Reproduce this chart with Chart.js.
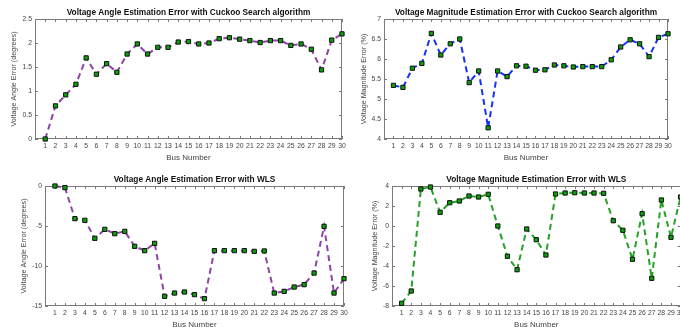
<!DOCTYPE html>
<html>
<head>
<meta charset="utf-8">
<script src="https://cdn.jsdelivr.net/npm/chart.js@4.4.1/dist/chart.umd.min.js"></script>
<style>
  html, body { margin: 0; padding: 0; background: #fff; width: 680px; height: 327px; overflow: hidden; position: relative; }
  canvas { position: absolute; }
</style>
</head>
<body>
<canvas id="angleCuckooChart"></canvas>
<canvas id="magCuckooChart"></canvas>
<canvas id="angleWlsChart"></canvas>
<canvas id="magWlsChart"></canvas>
<script>
// bus numbers (x axis)
const buses = [1, 2, 3, 4, 5, 6, 7, 8, 9, 10, 11, 12, 13, 14, 15, 16, 17, 18, 19, 20, 21, 22, 23, 24, 25, 26, 27, 28, 29, 30];

// voltage angle error, cuckoo search (degrees)
const angleCuckoo = [0, 0.69, 0.92, 1.14, 1.69, 1.35, 1.57, 1.39, 1.77, 1.98, 1.77, 1.91, 1.91, 2.02, 2.03, 1.98, 2.0, 2.09, 2.11, 2.08, 2.05, 2.01, 2.05, 2.05, 1.95, 1.98, 1.87, 1.44, 2.06, 2.19];
// voltage magnitude error, cuckoo search (%)
const magCuckoo = [5.34, 5.29, 5.77, 5.89, 6.64, 6.10, 6.38, 6.50, 5.41, 5.70, 4.28, 5.70, 5.56, 5.83, 5.82, 5.72, 5.73, 5.85, 5.83, 5.80, 5.81, 5.81, 5.81, 5.98, 6.30, 6.48, 6.38, 6.06, 6.54, 6.63];
// voltage angle error, WLS (degrees)
const angleWls = [0, -0.2, -4.08, -4.29, -6.54, -5.42, -5.96, -5.67, -7.54, -8.08, -7.17, -13.79, -13.38, -13.25, -13.58, -14.08, -8.08, -8.08, -8.08, -8.08, -8.17, -8.12, -13.38, -13.17, -12.63, -12.33, -10.88, -5.04, -13.38, -11.58];
// voltage magnitude error, WLS (%)
const magWls = [-7.73, -6.5, 3.7, 3.9, 1.37, 2.33, 2.5, 3.0, 2.9, 3.17, 0.0, -3.03, -4.37, -0.3, -1.37, -2.9, 3.2, 3.3, 3.33, 3.3, 3.3, 3.27, 0.53, -0.43, -3.33, 1.23, -5.23, 2.6, -1.13, 2.9];

// y tick labels
const angleCuckooTicks = [0, 0.5, 1, 1.5, 2, 2.5];
const magCuckooTicks = [4, 4.5, 5, 5.5, 6, 6.5, 7];
const angleWlsTicks = [-15, -10, -5, 0];
const magWlsTicks = [-8, -6, -4, -2, 0, 2, 4];

const fontFamily = "'Liberation Sans', Arial, sans-serif";
const textColor = '#444';

const panels = [
    { id: 'angleCuckooChart', left: 0, top: 0, width: 350, height: 163, padTop: 19, padRight: 8, titleY: 13, yTitlePad: 9.5,
      title: 'Voltage Angle Estimation Error with Cuckoo Search algorithm', yLabel: 'Voltage Angle Error (degrees)',
      values: angleCuckoo, yTicks: angleCuckooTicks, color: '#8e44a6' },
    { id: 'magCuckooChart', left: 349, top: 0, width: 327, height: 163, padTop: 19, padRight: 8, titleY: 13, yTitlePad: 10.5,
      title: 'Voltage Magnitude Estimation Error with Cuckoo Search algorithm', yLabel: 'Voltage Magnitude Error (%)',
      values: magCuckoo, yTicks: magCuckooTicks, color: '#1530ff' },
    { id: 'angleWlsChart', left: 10, top: 165, width: 342, height: 165, padTop: 21, padRight: 8, titleY: 15, yTitlePad: 9.5,
      title: 'Voltage Angle Estimation Error with WLS', yLabel: 'Voltage Angle Error (degrees)',
      values: angleWls, yTicks: angleWlsTicks, color: '#8e44a6' },
    { id: 'magWlsChart', left: 357, top: 165, width: 332, height: 165, padTop: 21, padRight: 8.4, titleY: 15, yTitlePad: 13.5,
      title: 'Voltage Magnitude Estimation Error with WLS', yLabel: 'Voltage Magnitude Error (%)',
      values: magWls, yTicks: magWlsTicks, color: '#26a026' }
];

// box around the plot with small inward ticks on all four sides
const framePlugin = {
    id: 'frame',
    beforeDatasetsDraw(chart) {
        const { ctx, chartArea: a, scales } = chart;
        ctx.save();
        ctx.strokeStyle = '#7a7a7a';
        ctx.lineWidth = 1;
        ctx.strokeRect(Math.round(a.left) + 0.5, Math.round(a.top) + 0.5, Math.round(a.right - a.left) - 1, Math.round(a.bottom - a.top) - 1);
        ctx.beginPath();
        scales.x.ticks.forEach(t => {
            const px = Math.round(scales.x.getPixelForValue(t.value)) + 0.5;
            ctx.moveTo(px, a.bottom); ctx.lineTo(px, a.bottom - 3);
            ctx.moveTo(px, a.top); ctx.lineTo(px, a.top + 3);
        });
        scales.y.ticks.forEach(t => {
            const py = Math.round(scales.y.getPixelForValue(t.value)) + 0.5;
            ctx.moveTo(a.left, py); ctx.lineTo(a.left + 3, py);
            ctx.moveTo(a.right, py); ctx.lineTo(a.right - 3, py);
        });
        ctx.stroke();
        ctx.restore();
    }
};

function buildChart(p) {
    const canvas = document.getElementById(p.id);
    canvas.width = p.width;
    canvas.height = p.height;
    canvas.style.left = p.left + 'px';
    canvas.style.top = p.top + 'px';
    canvas.style.width = p.width + 'px';
    canvas.style.height = p.height + 'px';

    // title centred over the plot area, like the original figure
    const titlePlugin = {
        id: 'panelTitle',
        afterDraw(chart) {
            const { ctx, chartArea: a } = chart;
            ctx.save();
            ctx.font = 'bold 8.3px ' + fontFamily;
            ctx.fillStyle = '#111';
            ctx.textAlign = 'center';
            ctx.textBaseline = 'middle';
            ctx.fillText(p.title, (a.left + a.right) / 2, p.titleY);
            ctx.restore();
        }
    };

    return new Chart(canvas, {
        type: 'line',
        data: {
            datasets: [{
                data: buses.map((b, i) => ({ x: b, y: p.values[i] })),
                borderColor: p.color,
                borderWidth: 2,
                borderDash: [6, 4],
                tension: 0,
                fill: false,
                clip: false,
                pointStyle: 'rect',
                pointRadius: 3,
                pointBackgroundColor: '#0b9e0b',
                pointBorderColor: '#111',
                pointBorderWidth: 1
            }]
        },
        options: {
            responsive: false,
            animation: false,
            events: [],
            layout: { padding: { top: p.padTop, right: p.padRight, left: 0, bottom: 0 } },
            plugins: {
                legend: { display: false },
                tooltip: { enabled: false }
            },
            scales: {
                x: {
                    type: 'linear',
                    min: 0,
                    max: 30,
                    afterBuildTicks: scale => { scale.ticks = buses.map(v => ({ value: v })); },
                    afterFit: scale => { scale.height = 24; },
                    grid: { display: false, drawTicks: false },
                    border: { display: false },
                    ticks: { autoSkip: false, maxRotation: 0, padding: 3, color: textColor, font: { family: fontFamily, size: 6.8 },
                             callback: v => String(v) },
                    title: { display: true, text: 'Bus Number', color: textColor, font: { family: fontFamily, size: 8 }, padding: { top: 2.2, bottom: 0 } }
                },
                y: {
                    type: 'linear',
                    min: p.yTicks[0],
                    max: p.yTicks[p.yTicks.length - 1],
                    afterBuildTicks: scale => { scale.ticks = p.yTicks.map(v => ({ value: v })); },
                    afterFit: scale => { scale.width = 35; },
                    grid: { display: false, drawTicks: false },
                    border: { display: false },
                    ticks: { padding: 3, color: textColor, font: { family: fontFamily, size: 6.8 },
                             callback: v => String(v) },
                    title: { display: true, text: p.yLabel, color: textColor, font: { family: fontFamily, size: 7.2 }, padding: { top: p.yTitlePad, bottom: 0 } }
                }
            }
        },
        plugins: [framePlugin, titlePlugin]
    });
}

panels.forEach(buildChart);
</script>
</body>
</html>
